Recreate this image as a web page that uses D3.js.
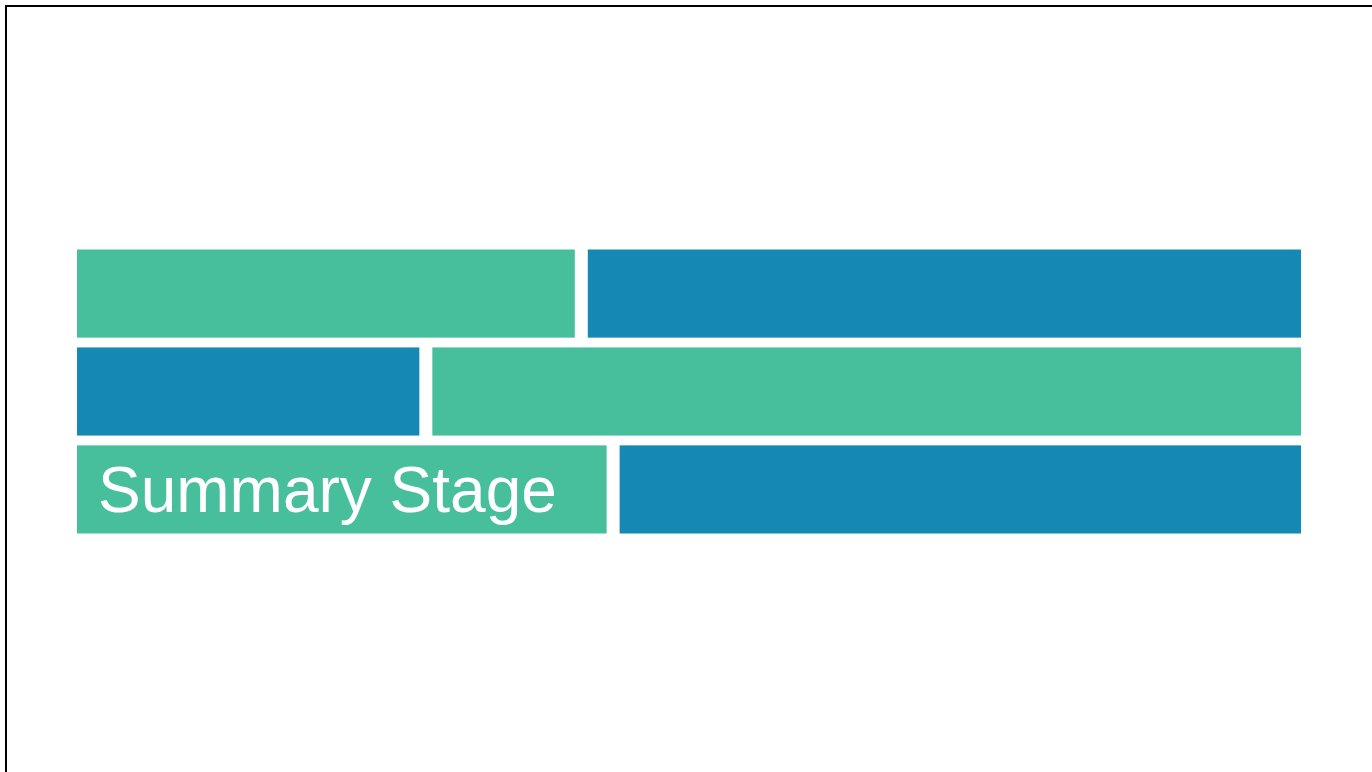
<!DOCTYPE html>
<html>
<head>
<meta charset="utf-8">
<script src="https://cdn.jsdelivr.net/npm/d3@7"></script>
<style>
  html, body { margin: 0; padding: 0; background: #fff; overflow: hidden; }
  svg { display: block; }
</style>
</head>
<body>
<script>
// ---- data ----
const rows = ["row1", "row2", "row3"];
const firstColors = ["green", "blue", "green"];
const firstValues = [41.2, 28.5, 43.8];   // share of the first segment (%)
const totalValues = [100, 100, 100];
const labels = ["", "", "Summary Stage"];

const palette = { green: "#47bf9c", blue: "#1588b3" };
const other = { green: "blue", blue: "green" };

const W = 1372, H = 772;
const svg = d3.select("body").append("svg").attr("width", W).attr("height", H);

// frame
svg.append("rect")
  .attr("x", 6).attr("y", 6)
  .attr("width", W + 20).attr("height", H + 20)
  .attr("fill", "none").attr("stroke", "#000").attr("stroke-width", 2);

const x = d3.scaleLinear().domain([0, 100]).range([77, 1301]);
const y = d3.scaleBand().domain(rows).range([249.5, 533.5]).paddingInner(0.1).paddingOuter(0);
const gap = 6.5;

const segs = [];
rows.forEach((r, i) => {
  segs.push({ row: r, x0: 0, x1: firstValues[i], color: firstColors[i], label: labels[i], first: true });
  segs.push({ row: r, x0: firstValues[i], x1: totalValues[i], color: other[firstColors[i]], label: "", first: false });
});

svg.append("g").selectAll("rect")
  .data(segs).join("rect")
  .attr("x", d => x(d.x0) + (d.first ? 0 : gap))
  .attr("width", d => x(d.x1) - x(d.x0) - gap)
  .attr("y", d => y(d.row))
  .attr("height", y.bandwidth())
  .attr("fill", d => palette[d.color]);

svg.append("g").selectAll("text")
  .data(segs.filter(d => d.label)).join("text")
  .attr("x", d => x(d.x0) + 21)
  .attr("y", d => y(d.row) + y.bandwidth() / 2 + 23)
  .attr("fill", "#fff")
  .style("font-family", "'Liberation Sans', Arial, sans-serif")
  .style("font-size", "64px")
  .text(d => d.label);
</script>
</body>
</html>
